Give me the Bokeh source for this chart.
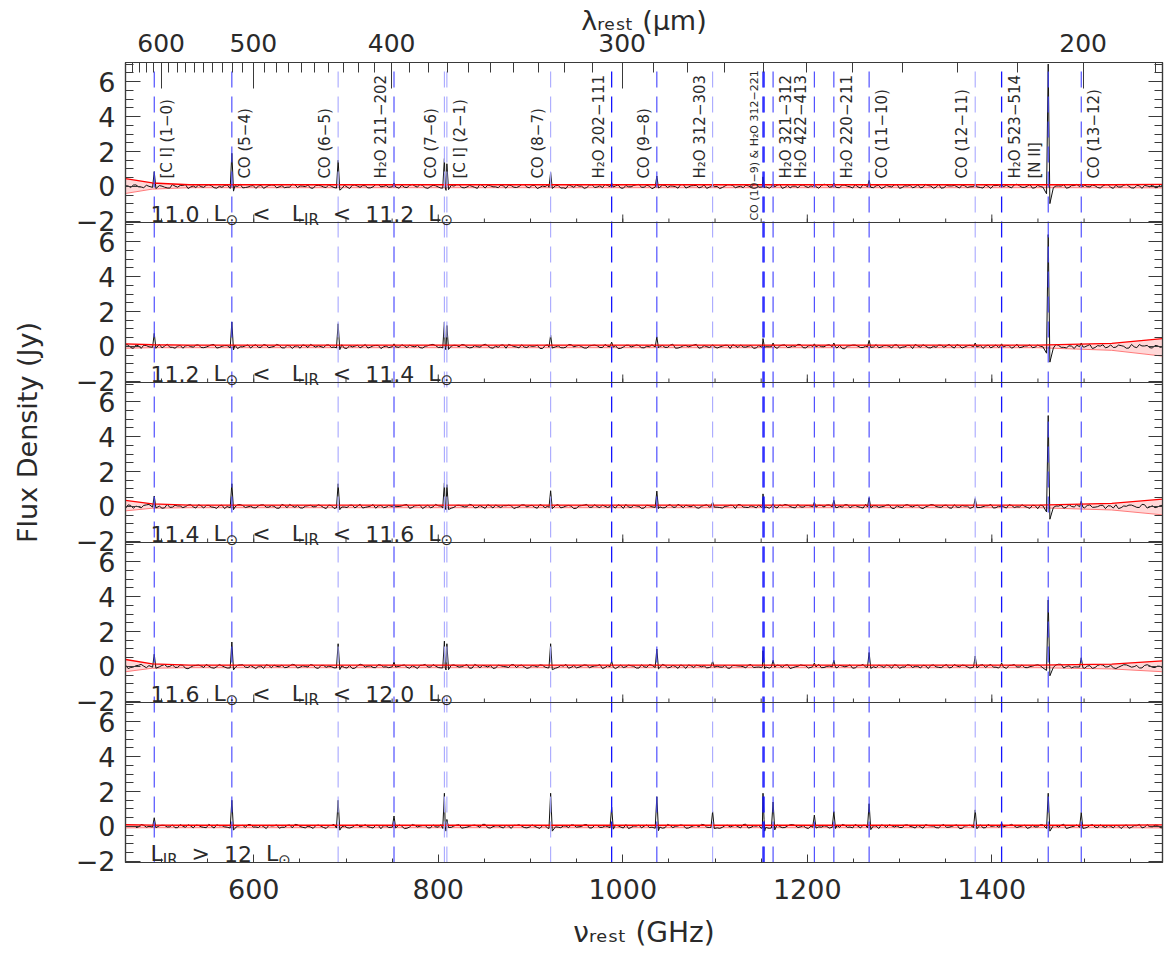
import numpy as np
from bokeh.plotting import figure
from bokeh.models import Range1d, LinearAxis, FixedTicker, Label, Span, ColumnDataSource
from bokeh.embed import file_html
from bokeh.resources import INLINE
from bokeh.core.properties import value

C_UM_GHZ = 299792.458  # c in micron*GHz

# ---------------- data ----------------
LINE_NU = [492.16, 576.27, 691.47, 752.03, 806.65, 809.34, 921.80, 987.93, 1036.91, 1097.37,
           1151.99, 1153.13, 1162.91, 1207.64, 1228.79, 1267.01, 1381.99, 1410.62, 1461.13, 1496.92]
LINE_LABELS = ["[C I] (1−0)", "CO (5−4)", "CO (6−5)", "H₂O 211−202", "CO (7−6)", "[C I] (2−1)",
               "CO (8−7)", "H₂O 202−111", "CO (9−8)", "H₂O 312−303", "", "", "H₂O 321−312",
               "H₂O 422−413", "H₂O 220−211", "CO (11−10)", "CO (12−11)", "H₂O 523−514",
               "[N II]", "CO (13−12)"]
LABEL_SIDE = [1, 1, -1, -1, -1, 1, -1, -1, -1, -1, 0, 0, 1, -1, 1, 1, -1, 1, -1, 1]
LINE_SHADE = ["mid", "mid", "light", "mid", "light", "light", "light", "strong", "mid", "light",
              "strong", "strong", "mid", "mid", "mid", "mid", "light", "strong", "mid", "mid"]
BLEND_LABEL = "CO (10−9) & H₂O 312−221"

PANEL_LOW = ["11.0", "11.2", "11.4", "11.6", None]
PANEL_HIGH = ["11.2", "11.4", "11.6", "12.0", "12"]

# line peak heights (Jy) per panel, same order as LINE_NU
PEAKS_1 = [0.85, 1.9, 1.5, 0.2, 1.6, 1.3, 0.8, 0.2, 0.6, 0.1, 0.55, 0.1, 0.15, 0.1, 0.2, 0.35, 0.15, 0.1, 7.0, 0.15]
PEAKS_2 = [0.75, 1.4, 1.3, 0.15, 1.4, 1.2, 0.65, 0.25, 0.55, 0.1, 0.45, 0.1, 0.2, 0.15, 0.2, 0.35, 0.2, 0.15, 6.4, 0.2]
PEAKS_3 = [0.6, 1.3, 1.3, 0.1, 1.35, 1.25, 0.9, 0.1, 0.88, 0.25, 0.72, 0.1, 0.15, 0.25, 0.35, 0.5, 0.45, 0.05, 5.2, 0.3]
PEAKS_4 = [0.7, 1.4, 1.3, 0.25, 1.45, 1.3, 1.3, 0.3, 1.0, 0.3, 0.9, 0.2, 0.35, 0.2, 0.35, 0.8, 0.6, 0.2, 3.8, 0.5]
PEAKS_5 = [0.5, 1.5, 1.5, 0.6, 1.9, 0.4, 1.9, 1.1, 1.7, 0.85, 1.9, 0.4, 1.4, 0.65, 0.85, 1.3, 0.95, 0.2, 1.9, 0.8]
PEAKS = [PEAKS_1, PEAKS_2, PEAKS_3, PEAKS_4, PEAKS_5]
SIDELOBE_PRE, SIDELOBE_POST = -0.06, -0.14   # fraction of the peak

# continuum residuals (centi-Jy): list A on NU_START + k*NU_STEP, list B half a step later
NU_START, NU_STEP = 461.0, 5.65
NOISE_A_CJY = [
    4, -6, 9, -3, 7, -10, 5, 2, -8, 11, -4, 6, -12, 3, 8, -5, 10, -7, 1, 6,
    -9, 4, 12, -6, 3, -11, 7, -2, 9, -8, 5, -4, 13, -7, 2, 8, -10, 6, -3, 10,
    -6, 1, 7, -12, 9, -5, 4, -8, 11, -2, 6, -9, 3, 8, -6, 12, -4, 5, -11, 7,
    -3, 9, -7, 2, 10, -8, 6, -5, 13, -9, 4, -2, 8, -10, 5, -6, 11, -3, 7, -12,
    3, 9, -4, 6, -8, 10, -5, 2, -11, 8, -6, 4, 12, -7, 3, -9, 6, -2, 10, -5,
    7, -13, 4, 8, -6, 2, -10, 11, -3, 5, -8, 9, -4, 6, -12, 3, 10, -7, 1, 8,
    -5, 12, -9, 4, -3, 7, -11, 6, 2, -8, 9, -6, 5, -10, 13, -4, 3, -7, 8, -2,
    10, -9, 6, -5, 4, -12, 7, -3, 11, -6, 2, -8, 9, -4, 5, -10, 12, -7, 3, 6,
    -9, 4, -2, 10, -6, 8, -11, 5, -3, 7, -8, 13, -5, 2, -10, 6, -4, 9, -7, 3,
    11, -6, 5, -12, 8, -2, 4, -9, 10, -5, 7, -3, 12, -8, 6, -11, 3, 9, -6, 4]
NOISE_B_CJY = [
    3, 8, -2, -7, 1, 10, 5, -4, -9, 2, 6, 11, -3, -6, -1, 7, 4, -10, -5, 9,
    12, 0, -8, -3, 5, 2, -11, 6, 8, -2, -7, -4, 10, 3, -1, -9, 6, 4, -6, 1,
    9, -12, -3, 7, 2, 5, -8, -2, 11, 0, -5, 8, -10, -4, 6, 3, 12, -7, -1, 4,
    -9, 2, 7, 10, -6, -3, 1, -11, 5, 8, -2, -7, 3, 9, -4, 0, 11, -8, 6, -5,
    -1, 7, 4, -9, -12, 3, 8, 2, -6, 10, -3, -7, 5, 1, 9, -10, -2, 6, 12, -4,
    2, -8, -5, 7, 3, -1, 11, -9, 4, 6, -3, -11, 8, 0, -6, 10, 5, -2, -7, 3,
    9, -4, 1, -10, 6, 12, -5, -8, 2, 7, -1, 4, -12, 5, 10, -3, -6, 8, 1, -9,
    -2, 11, 3, -7, 6, -5, 0, 9, -11, 4, 7, -2, -8, 12, 2, -4, -10, 6, 3, -1,
    8, -6, -3, 10, -9, 1, 5, 7, -12, -2, 9, 4, -5, 11, -7, 0, 6, -8, 3, 2,
    -10, 5, 12, -4, -1, 8, -6, 3, 10, -11, -3, 7, 1, -9, 4, 6, -2, -7, 11, -5]
NOISE_SHIFT_A = [0, 37, 74, 111, 148]
NOISE_SHIFT_B = [0, 53, 106, 159, 12]
SPEC_START = [461, 461, 461, 461, 472]

# continuum model envelope (Jy) per panel
BAND_NU = [461, 490, 530, 1450, 1530, 1585]
BAND_UP = [[0.45, 0.2, 0.1, 0.1, 0.1, 0.12],
           [0.15, 0.1, 0.08, 0.08, 0.18, 0.45],
           [0.35, 0.15, 0.08, 0.08, 0.18, 0.42],
           [0.4, 0.15, 0.08, 0.08, 0.14, 0.32],
           [0.1, 0.08, 0.07, 0.07, 0.07, 0.09]]
BAND_LO = [[-0.4, -0.15, -0.07, -0.07, -0.07, -0.08],
           [-0.1, -0.07, -0.07, -0.07, -0.22, -0.55],
           [-0.25, -0.1, -0.07, -0.07, -0.2, -0.48],
           [-0.3, -0.1, -0.07, -0.07, -0.14, -0.3],
           [-0.08, -0.07, -0.07, -0.07, -0.07, -0.08]]

# axes
X_RANGE = (461.0, 1585.0)
X_MAJOR = [600, 800, 1000, 1200, 1400]
X_MINOR = list(range(500, 1600, 50))
LAM_MAJOR = [600, 500, 400, 300, 200]
LAM_MINOR = list(range(190, 660, 10))
Y_LO, Y_HI = -2.06, 7.09
Y_MAJOR = [-2, 0, 2, 4, 6]
Y_MINOR = [v * 0.5 for v in range(-4, 15)]

X_TITLE = "νᵣₑₛₜ (GHz)"
TOP_TITLE = "λᵣₑₛₜ (μm)"
Y_TITLE = "Flux Density (Jy)"

# ---------------- layout ----------------
W, H = 1164, 956
BL, BR, BT, BB = 125, 2, 62, 94
NP = 5
SPAN_Y = Y_HI - Y_LO
FONT = "DejaVu Sans"
TXT = "#2a2a2a"
AX = "#3a3a3a"

frame_w = W - BL - BR
frame_h = H - BT - BB
px_per_x = frame_w / (X_RANGE[1] - X_RANGE[0])
px_per_y = frame_h / (NP * SPAN_Y)


def zero_of(i):
    return (NP - 1 - i) * SPAN_Y - Y_LO


p = figure(width=W, height=H, x_range=Range1d(*X_RANGE), y_range=Range1d(0, NP * SPAN_Y),
           output_backend="svg", toolbar_location=None,
           min_border_left=BL, min_border_right=BR, min_border_top=BT, min_border_bottom=BB,
           x_axis_location=None, y_axis_location=None)
p.grid.visible = False
p.outline_line_color = AX
p.outline_line_width = 1.2
p.background_fill_color = "white"
p.border_fill_color = "white"


def style_axis(ax, tin, tmin, size="27px", standoff=8):
    ax.axis_line_color = AX
    ax.axis_line_width = 1.2
    ax.major_tick_line_color = AX
    ax.minor_tick_line_color = AX
    ax.major_tick_in = tin
    ax.major_tick_out = 0
    ax.minor_tick_in = tmin
    ax.minor_tick_out = 0
    ax.major_label_text_font = FONT
    ax.major_label_text_font_size = size
    ax.major_label_text_color = TXT
    ax.major_label_standoff = standoff
    ax.axis_label_text_font = FONT
    ax.axis_label_text_font_style = "normal"
    ax.axis_label_text_color = TXT


# bottom frequency axis
xb = LinearAxis(ticker=FixedTicker(ticks=X_MAJOR, minor_ticks=X_MINOR), axis_label=X_TITLE)
style_axis(xb, 8, 4, "27px", 16)
xb.axis_label_text_font_size = "28px"
xb.axis_label_standoff = 14
p.add_layout(xb, "below")

# top wavelength axis
lam_major_nu = [C_UM_GHZ / l for l in LAM_MAJOR]
lam_minor_nu = [C_UM_GHZ / l for l in LAM_MINOR]
xt = LinearAxis(ticker=FixedTicker(ticks=lam_major_nu, minor_ticks=lam_minor_nu),
                major_label_overrides={nu: str(l) for nu, l in zip(lam_major_nu, LAM_MAJOR)},
                axis_label=TOP_TITLE)
style_axis(xt, 26, 10, "25px", 11)
xt.axis_label_text_font_size = "27px"
xt.axis_label_standoff = -5
p.add_layout(xt, "above")

# left / right flux axes
y_ticks, y_minor, y_over = [], [], {}
for i in range(NP):
    z = zero_of(i)
    for v in Y_MAJOR:
        t = z + v
        y_ticks.append(t)
        y_over[t] = ("−" + str(-v)) if v < 0 else str(v)
    y_minor += [z + v for v in Y_MINOR]
yl = LinearAxis(ticker=FixedTicker(ticks=y_ticks, minor_ticks=y_minor), major_label_overrides=y_over,
                axis_label="\u00a0" * 7 + Y_TITLE)
style_axis(yl, 15, 8, "27px", 10)
yl.axis_label_text_font_size = "27px"
yl.axis_label_standoff = 30
p.add_layout(yl, "left")
yr = LinearAxis(ticker=FixedTicker(ticks=y_ticks, minor_ticks=y_minor))
style_axis(yr, 14, 8, "0px", 0)
yr.major_label_text_alpha = 0
p.add_layout(yr, "right")

# panel separators and their inward x ticks
for i in range(NP - 1):
    yb = (NP - 1 - i) * SPAN_Y
    p.add_layout(Span(location=yb, dimension="width", line_color=AX, line_width=1.2))
    p.segment(x0=X_MAJOR, x1=X_MAJOR, y0=[yb] * len(X_MAJOR), y1=[yb + 8 / px_per_y] * len(X_MAJOR),
              line_color=AX, line_width=1)
    p.segment(x0=X_MINOR, x1=X_MINOR, y0=[yb] * len(X_MINOR), y1=[yb + 4 / px_per_y] * len(X_MINOR),
              line_color=AX, line_width=1)

# spectra, continuum envelopes
n = len(NOISE_A_CJY)
nu_grid = np.concatenate([NU_START + NU_STEP * np.arange(n), NU_START + NU_STEP * (np.arange(n) + 0.5)])
line_nu = np.array(LINE_NU)
far = np.array([np.min(np.abs(line_nu - nu)) > 3.0 for nu in nu_grid])
for i in range(NP):
    z = zero_of(i)
    up = np.array(BAND_UP[i]) + z
    lo = np.array(BAND_LO[i]) + z
    p.varea(x=BAND_NU, y1=lo, y2=up, fill_color="#ffb8b8", fill_alpha=0.55)
    p.line(BAND_NU, lo, line_color="#ff7a7a", line_width=1)

    noise = np.concatenate([np.roll(np.array(NOISE_A_CJY, dtype=float), NOISE_SHIFT_A[i]),
                            np.roll(np.array(NOISE_B_CJY, dtype=float), NOISE_SHIFT_B[i])]) / 100.0
    xs = list(nu_grid[far])
    ys = list(noise[far])
    for nu, h in zip(LINE_NU, PEAKS[i]):
        xs += [nu - 1.8, nu, nu + 1.8]
        ys += [SIDELOBE_PRE * h, h, SIDELOBE_POST * h]
    xs = np.array(xs)
    ys = np.array(ys)
    order = np.argsort(xs)
    xs, ys = xs[order], ys[order]
    keep = xs >= SPEC_START[i]
    p.line(xs[keep], ys[keep] + z, line_color="#111111", line_width=1)
    p.line(BAND_NU, up, line_color="#ff0000", line_width=1.3)

# dashed line markers
shade_color = {"strong": "#1414ff", "mid": "#4040ff", "light": "#a8a8ff"}
shade_width = {"strong": 1.3, "mid": 1.1, "light": 1.1}
p.segment(x0=LINE_NU, x1=LINE_NU, y0=[0] * len(LINE_NU), y1=[NP * SPAN_Y] * len(LINE_NU),
          line_color=[shade_color[s] for s in LINE_SHADE],
          line_width=[shade_width[s] for s in LINE_SHADE], line_dash="16 9")

# line identifications (top panel)
z0 = zero_of(0)
lab_idx = [k for k, t in enumerate(LINE_LABELS) if t]
src = ColumnDataSource(dict(
    x=[LINE_NU[k] for k in lab_idx],
    y=[z0 + 0.45] * len(lab_idx),
    text=[LINE_LABELS[k] for k in lab_idx],
    xoff=[13 * LABEL_SIDE[k] for k in lab_idx]))
p.text(x="x", y="y", text="text", x_offset="xoff", source=src, angle=np.pi / 2,
       text_font=value(FONT), text_font_size="15px", text_align="left",
       text_baseline="middle", text_color=TXT)
p.text(x=[LINE_NU[10]], y=[z0 - 1.95], text=[BLEND_LABEL], x_offset=-9, angle=np.pi / 2,
       text_font=value(FONT), text_font_size="11px", text_align="left",
       text_baseline="middle", text_color=TXT)

# ---------------- panel labels ----------------
ADV = {"0": .636, "1": .636, "2": .636, "3": .636, "4": .636, "5": .636, "6": .636, "7": .636,
       "8": .636, "9": .636, ".": .318, " ": .318, "L": .557, "<": .838, ">": .838, "I": .295,
       "R": .695, "⊙": .838}


def adv(s, size):
    return size * sum(ADV.get(c, 0.6) for c in s)


def compose(x, y, parts, start_px=0.0):
    off = start_px
    for t, sz, dy in parts:
        run, run_off = "", off
        for ch in t + " ":
            if ch == " ":
                if run:
                    p.add_layout(Label(x=x, y=y, text=run, x_offset=run_off, y_offset=-dy,
                                       text_font=FONT, text_font_size=f"{sz}px",
                                       text_color=TXT, text_align="left", text_baseline="alphabetic"))
                run = ""
                off += adv(" ", sz)
                run_off = off
            else:
                run += ch
                off += adv(ch, sz)
        off -= adv(" ", sz)


MAIN, SUB, DROP = 22, 15, 6
label_x = X_RANGE[0] + (150 - BL) / px_per_x
for i in range(NP):
    yb = zero_of(i) + Y_LO + 9 / px_per_y
    if PANEL_LOW[i] is not None:
        parts = [(PANEL_LOW[i] + "  L", MAIN, 0), ("⊙", SUB, DROP),
                 ("  <   L", MAIN, 0), ("IR", SUB, DROP),
                 ("  <  " + PANEL_HIGH[i] + "  L", MAIN, 0), ("⊙", SUB, DROP)]
    else:
        parts = [("L", MAIN, 0), ("IR", SUB, DROP),
                 ("  >  " + PANEL_HIGH[i] + "  L", MAIN, 0), ("⊙", SUB, DROP)]
    compose(label_x, yb, parts)

open("out.html", "w").write(file_html(p, INLINE))
